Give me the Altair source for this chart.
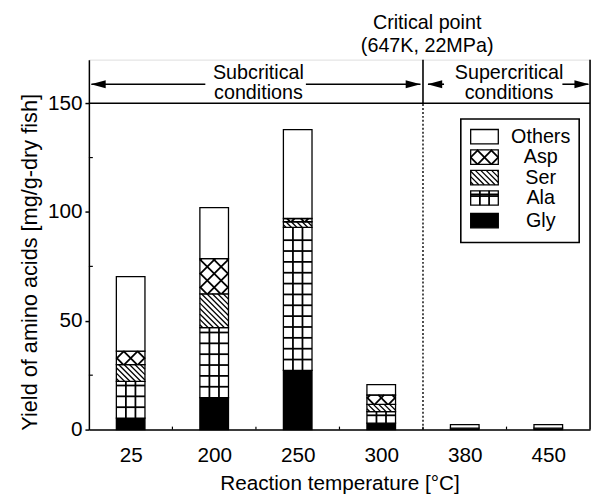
import altair as alt
import pandas as pd
import numpy as np

# ---------------- data ----------------
temps = ["25", "200", "250", "300", "380", "450"]
components = ["Gly", "Ala", "Ser", "Asp", "Others"]
gly = [5.3, 14.7, 27.2, 3.0, 0.0, 0.0]
ala = [16.9, 32.2, 65.7, 5.3, 0.7, 0.7]
ser = [7.7, 15.5, 2.6, 3.3, 0.0, 0.0]
asp = [6.2, 16.2, 1.5, 4.3, 0.0, 0.0]
others = [34.2, 23.4, 40.8, 4.8, 1.6, 1.6]
legend_items = ["Others", "Asp", "Ser", "Ala", "Gly"]
y_ticks = [0, 50, 100, 150]

# ---------------- layout ----------------
W, H = 508, 375
YMAX = 170
PXX = W / 6.0
PXY = H / YMAX
HALF_BAR = 14.5 / PXX
FONT = "Liberation Sans"

series = {"Gly": gly, "Ala": ala, "Ser": ser, "Asp": asp, "Others": others}

cells = []
for i, t in enumerate(temps):
    base = 0.0
    for c in components:
        v = series[c][i]
        if v > 0:
            cells.append(dict(x=i - HALF_BAR, x2=i + HALF_BAR, y=base, y2=base + v, comp=c))
        base += v

# legend swatches (in data units)
leg_x0 = (477 - 90) / PXX - 0.5
leg_x1 = (505 - 90) / PXX - 0.5
leg_centers = [134.6, 125.2, 115.8, 106.4, 96.0]
sw_h = 6.6
for name, cy in zip(legend_items, leg_centers):
    cells.append(dict(x=leg_x0, x2=leg_x1, y=cy - sw_h / 2, y2=cy + sw_h / 2, comp=name))

cells_df = pd.DataFrame(cells)
cells_df["fill"] = np.where(cells_df["comp"] == "Gly", "black", "white")


def to_px(x, y):
    return (x + 0.5) * PXX, y * PXY


def from_px(X, Y):
    return X / PXX - 0.5, Y / PXY


def diag(X0, X1, Y0, Y1, h, sign):
    segs = []
    if sign < 0:  # "\"  Y = -X + c
        c = X0 + Y0 + h / 2
        while c < X1 + Y1:
            xs = max(X0, c - Y1)
            xe = min(X1, c - Y0)
            if xe - xs > 0.8:
                segs.append((xs, c - xs, xe, c - xe))
            c += h
    else:  # "/"  Y = X + c
        c = Y0 - X1 + h / 2
        while c < Y1 - X0:
            xs = max(X0, Y0 - c)
            xe = min(X1, Y1 - c)
            if xe - xs > 0.8:
                segs.append((xs, xs + c, xe, xe + c))
            c += h
    return segs


thin, thick = [], []
for _, r in cells_df.iterrows():
    X0, Y0 = to_px(r.x, r.y)
    X1, Y1 = to_px(r.x2, r.y2)
    segs_thin, segs_thick = [], []
    if r.comp == "Ser":
        segs_thin += diag(X0, X1, Y0, Y1, 5.5, -1)
    elif r.comp == "Asp":
        segs_thick += diag(X0, X1, Y0, Y1, 14.0, -1)
        segs_thick += diag(X0, X1, Y0, Y1, 14.0, 1)
    elif r.comp == "Ala" and (Y1 - Y0) > 4:
        w = X1 - X0
        for f in (1 / 3, 2 / 3):
            segs_thick.append((X0 + w * f, Y0, X0 + w * f, Y1))
        yy = Y0 + 11.0
        while yy < Y1 - 3:
            segs_thick.append((X0, yy, X1, yy))
            yy += 11.0
        if Y1 - Y0 < 20:
            ym = (Y0 + Y1) / 2 + 2
            segs_thick.append((X0, ym, X1, ym))
    for lst, out in ((segs_thin, thin), (segs_thick, thick)):
        for (a, b, c, d) in lst:
            xa, ya = from_px(a, b)
            xb, yb = from_px(c, d)
            out.append(dict(x=xa, y=ya, x2=xb, y2=yb))

thin_df = pd.DataFrame(thin)
thick_df = pd.DataFrame(thick)

xscale = alt.Scale(domain=[-0.5, 5.5], nice=False, zero=False)
yscale = alt.Scale(domain=[0, YMAX], nice=False, zero=False)

label_expr = "[" + ",".join("'%s'" % t for t in temps) + "][datum.value]"

x_axis = alt.Axis(values=list(range(len(temps))), labelExpr=label_expr, ticks=False,
                  labelPadding=15, labelFontSize=21, labelFont=FONT, labelColor="black",
                  title="Reaction temperature [°C]", titleFontSize=21, titleFont=FONT,
                  titleFontWeight="normal", titleColor="black", titlePadding=8,
                  grid=False, domainColor="black", domainWidth=1.5)
y_axis = alt.Axis(values=y_ticks, tickSize=4, tickColor="black", tickWidth=1.5,
                  labelPadding=3, labelFontSize=21, labelFont=FONT, labelColor="black",
                  title="Yield of amino acids [mg/g-dry fish]", titleFontSize=22, titleFont=FONT,
                  titleFontWeight="normal", titleColor="black", titlePadding=6, titleY=205,
                  grid=False, domainColor="black", domainWidth=1.5)

X_ENC = dict(scale=xscale)
Y_ENC = dict(scale=yscale)


def seg_layer(df, width, **kw):
    return alt.Chart(df).mark_rule(color="black", strokeWidth=width, **kw).encode(
        x=alt.X("x:Q", **X_ENC), x2="x2:Q",
        y=alt.Y("y:Q", **Y_ENC), y2="y2:Q")


# legend box (drawn first)
leg_box = alt.Chart(pd.DataFrame([dict(x=(467 - 90) / PXX - 0.5, x2=(587 - 90) / PXX - 0.5,
                                       y=86.0, y2=142.7)])).mark_rect(
    fill="white", stroke="black", strokeWidth=1.6).encode(
    x=alt.X("x:Q", scale=xscale, axis=x_axis), x2="x2:Q",
    y=alt.Y("y:Q", scale=yscale, axis=y_axis), y2="y2:Q")

bars = alt.Chart(cells_df).mark_rect(stroke="black", strokeWidth=1.3).encode(
    x=alt.X("x:Q", **X_ENC),
    x2="x2:Q",
    y=alt.Y("y:Q", **Y_ENC),
    y2="y2:Q",
    fill=alt.Fill("fill:N", scale=None),
)

hatch_thin = seg_layer(thin_df, 1.3)
hatch_thick = seg_layer(thick_df, 1.8)

# frame & header lines
frame_df = pd.DataFrame([
    dict(x=-0.5, x2=5.5, y=150, y2=150),
    dict(x=5.5, x2=5.5, y=0, y2=YMAX),
    dict(x=3.5, x2=3.5, y=150, y2=YMAX),
])
frame = seg_layer(frame_df, 1.6)
dashed = seg_layer(pd.DataFrame([dict(x=3.5, x2=3.5, y=0, y2=150)]), 1.4, strokeDash=[2, 2])

# small inward ticks
mt = []
for v in [25, 75, 125]:
    mt.append(dict(x=-0.5, x2=-0.5 + 4 / PXX, y=v, y2=v))
for b in [0.5, 1.5, 2.5, 3.5, 4.5]:
    mt.append(dict(x=b, x2=b, y=0, y2=3 / PXY))
minor = seg_layer(pd.DataFrame(mt), 1.2)

# arrows
arrow_lines = pd.DataFrame([
    dict(x=-0.47, x2=0.894, y=158.7, y2=158.7),
    dict(x=2.098, x2=3.47, y=158.7, y2=158.7),
    dict(x=3.56, x2=3.752, y=158.7, y2=158.7),
    dict(x=5.169, x2=5.48, y=158.7, y2=158.7),
])
arrows = seg_layer(arrow_lines, 1.6)
heads_left = alt.Chart(pd.DataFrame([dict(x=-0.476, y=158.7), dict(x=3.553, y=158.7)])).mark_point(
    shape="M0,0L2,-0.55L2,0.55Z", filled=True, size=225, color="black", opacity=1).encode(
    x=alt.X("x:Q", **X_ENC), y=alt.Y("y:Q", **Y_ENC))
heads_right = alt.Chart(pd.DataFrame([dict(x=3.47, y=158.7), dict(x=5.49, y=158.7)])).mark_point(
    shape="M0,0L-2,-0.55L-2,0.55Z", filled=True, size=225, color="black", opacity=1).encode(
    x=alt.X("x:Q", **X_ENC), y=alt.Y("y:Q", **Y_ENC))

# header texts
hdr = pd.DataFrame([
    dict(x=1.53, y=164.0, t="Subcritical"),
    dict(x=1.53, y=154.6, t="conditions"),
    dict(x=4.53, y=164.0, t="Supercritical"),
    dict(x=4.53, y=154.6, t="conditions"),
    dict(x=3.55, y=186.6, t="Critical point"),
    dict(x=3.55, y=176.4, t="(647K, 22MPa)"),
])
hdr_text = alt.Chart(hdr).mark_text(font=FONT, fontSize=20, color="black", baseline="middle",
                                    align="center").encode(
    x=alt.X("x:Q", **X_ENC), y=alt.Y("y:Q", **Y_ENC), text="t:N")

leg_lab = alt.Chart(pd.DataFrame(dict(t=legend_items, y=leg_centers,
                                      x=[(548 - 90) / PXX - 0.5] * 5))).mark_text(
    font=FONT, fontSize=20, color="black", baseline="middle", align="center").encode(
    x=alt.X("x:Q", **X_ENC), y=alt.Y("y:Q", **Y_ENC), text="t:N")

chart = alt.layer(
    leg_box, bars, hatch_thin, hatch_thick, frame, dashed, minor, arrows,
    heads_left, heads_right, hdr_text, leg_lab
).properties(
    width=W, height=H,
    autosize=alt.AutoSizeParams(type="none"),
    padding={"left": 82, "top": 49, "right": 3, "bottom": 66},
).configure_view(stroke=None).configure_axis(grid=False).configure(background="white")

chart.save("out.html", embed_options={"renderer": "svg", "actions": False})
